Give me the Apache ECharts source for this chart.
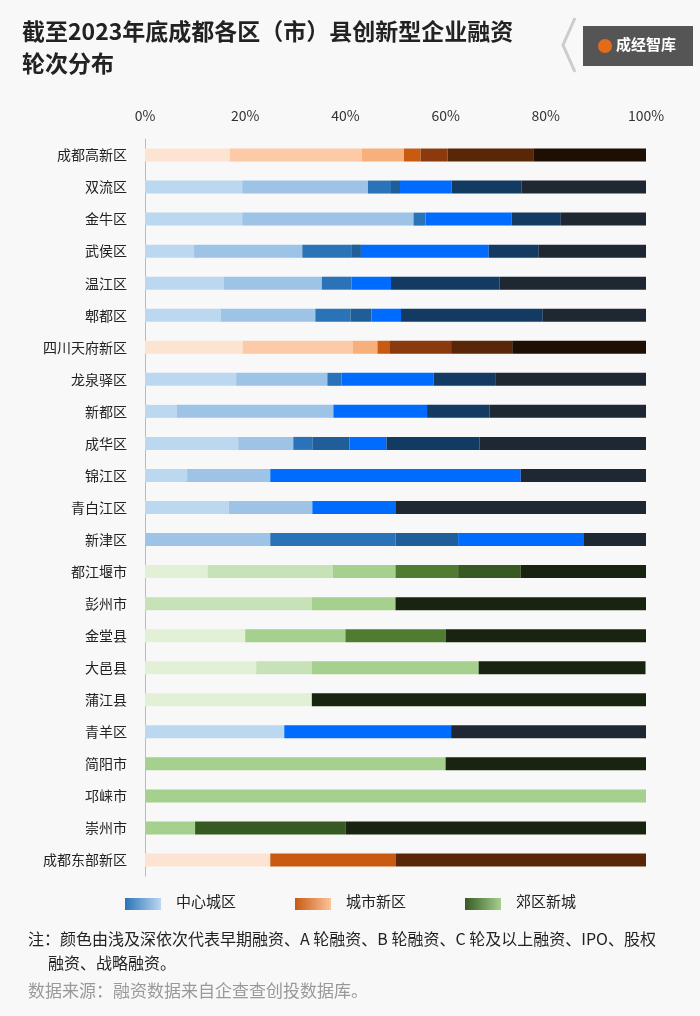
<!DOCTYPE html>
<html><head><meta charset="utf-8">
<script src="https://cdn.jsdelivr.net/npm/echarts@6/dist/echarts.min.js"></script>
<style>html,body{margin:0;padding:0;background:#f8f8f8}#c{width:700px;height:1016px}</style>
</head><body><div id="c"></div>
<script>
const categories = ['成都高新区','双流区','金牛区','武侯区','温江区','郫都区','四川天府新区','龙泉驿区','新都区','成华区','锦江区','青白江区','新津区','都江堰市','彭州市','金堂县','大邑县','蒲江县','青羊区','简阳市','邛崃市','崇州市','成都东部新区'];
const groups = ['n','c','c','c','c','c','n','c','c','c','c','c','c','s','s','s','s','s','c','s','s','s','n'];
const stageNames = ['早期融资','A轮融资','B轮融资','C轮及以上融资','IPO','股权融资','战略融资'];
const stage0 = [16.9,19.4,19.4,9.8,15.7,15.1,19.5,18.2,6.3,18.6,8.4,16.7,0,12.5,0,20,22.2,33.3,27.8,0,0,0,25];
const stage1 = [26.4,25.1,34.2,21.6,19.6,18.9,22.0,18.2,31.3,11.0,16.6,16.7,25,25,33.3,0,11.1,0,0,0,0,0,0];
const stage2 = [8.4,4.6,2.4,9.9,5.9,7.0,4.9,2.8,0,3.8,0,0,25,12.5,16.7,20,33.3,0,0,60,100,10,0];
const stage3 = [3.3,1.8,0,1.8,0,4.2,2.5,0,0,7.4,0,0,12.5,12.5,0,20,0,0,0,0,0,0,25];
const stage4 = [5.4,10.3,17.2,25.5,7.9,5.9,12.2,18.4,18.7,7.4,50,16.7,25,12.5,0,0,0,0,33.3,0,0,30,0];
const stage5 = [17.1,14.0,9.8,10.0,21.7,28.3,12.2,12.3,12.5,18.6,0,0,0,0,0,0,0,0,0,0,0,0,50];
const stage6 = [22.5,24.8,17.0,21.4,29.2,20.6,26.7,30.1,31.2,33.2,25,49.9,12.5,25,50,40,33.3,66.7,38.9,40,0,60,0];
const stages = [stage0,stage1,stage2,stage3,stage4,stage5,stage6];
const palettes = {
  c:['#bcd8f0','#9dc3e6','#2a73b8','#1f5e98','#006cff','#133a62','#1f2733'],
  n:['#fde4d2','#fccaa6','#f7b07c','#c85a12','#8a3a0c','#5a2608','#1e0f02'],
  s:['#e2f1d6','#c6e2b6','#a6d08e','#507c32','#375a22','#2a461a','#18240f']
};
const legendItems = [['中心城区','#2a73b8','#bcd8f0'],['城市新区','#c85a12','#fcc39a'],['郊区新城','#375a22','#a6d08e']];

const chart = echarts.init(document.getElementById('c'));
const series = stages.map((arr,si)=>({
  name: stageNames[si], type:'bar', stack:'t', barWidth:13,
  data: arr.map((v,i)=>({value:v, itemStyle:{color:palettes[groups[i]][si]}}))
}));
const legendGraphics = [];
legendItems.forEach((it,k)=>{
  const x0 = 125 + k*170;
  legendGraphics.push({type:'rect',left:x0,top:898,shape:{width:36,height:12},
    style:{fill:new echarts.graphic.LinearGradient(0,0,1,0,[{offset:0,color:it[1]},{offset:1,color:it[2]}])}});
  legendGraphics.push({type:'text',left:x0+51,top:894,style:{text:it[0],font:'15px "Noto Sans CJK SC"',fill:'#222'}});
});
chart.setOption({
  backgroundColor:'#f8f8f8',
  animation:false,
  grid:{left:145,right:54,top:139,bottom:140},
  xAxis:{type:'value',position:'top',min:0,max:100,interval:20,
    axisLabel:{formatter:'{value}%',color:'#333',fontSize:14,fontFamily:'Noto Sans CJK SC',margin:16},
    splitLine:{show:false},axisLine:{show:false},axisTick:{show:false}},
  yAxis:{type:'category',data:categories,inverse:true,
    axisLabel:{color:'#222',fontSize:14,fontFamily:'Noto Sans CJK SC',margin:18},
    axisLine:{show:true,lineStyle:{color:'#bbb'}},axisTick:{show:false}},
  series,
  graphic:[
    {type:'text',left:22,top:20,style:{text:'截至2023年底成都各区（市）县创新型企业融资',font:'bold 23px "Noto Sans CJK SC"',fill:'#222'}},
    {type:'text',left:22,top:52,style:{text:'轮次分布',font:'bold 23px "Noto Sans CJK SC"',fill:'#222'}},
    {type:'polyline',shape:{points:[[575,18],[563,45],[575,72]]},style:{stroke:'#ccc',lineWidth:3,fill:null}},
    {type:'rect',left:583,top:26,shape:{width:110,height:40},style:{fill:'#555'}},
    {type:'circle',shape:{cx:605,cy:46,r:7},style:{fill:'#e36c1c'}},
    {type:'text',left:616,top:37,style:{text:'成经智库',font:'bold 15px "Noto Sans CJK SC"',fill:'#fff'}},
    ...legendGraphics,
    {type:'text',left:28,top:931,style:{text:'注：颜色由浅及深依次代表早期融资、A 轮融资、B 轮融资、C 轮及以上融资、IPO、股权',font:'16px "Noto Sans CJK SC"',fill:'#222'}},
    {type:'text',left:48,top:955,style:{text:'融资、战略融资。',font:'16px "Noto Sans CJK SC"',fill:'#222'}},
    {type:'text',left:28,top:982,style:{text:'数据来源：融资数据来自企查查创投数据库。',font:'17px "Noto Sans CJK SC"',fill:'#999'}}
  ]
});
</script></body></html>
